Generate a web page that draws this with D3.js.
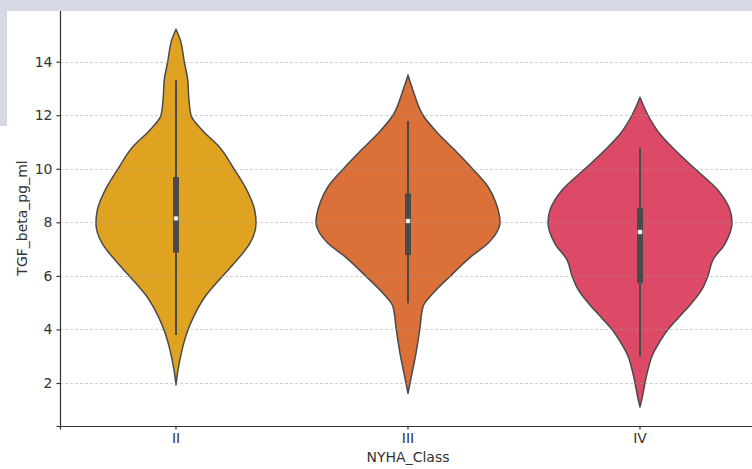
<!DOCTYPE html>
<html>
<head>
<meta charset="utf-8">
<script src="https://cdn.jsdelivr.net/npm/d3@7"></script>
<style>
  html, body { margin: 0; padding: 0; background: #ffffff; }
  svg { display: block; }
  text { font-family: "DejaVu Sans", sans-serif; fill: #333333; }
</style>
</head>
<body>
<svg id="chart" width="752" height="469"></svg>
<script>
// Categories and their fill colours
const categories = ["II", "III", "IV"];
const fills = ["#e0a321", "#db7039", "#dc4a67"];

// Box summary per class: whisker low, Q1, median, Q3, whisker high
const whiskerLow  = [3.79, 4.98, 3.00];
const q1          = [6.87, 6.78, 5.73];
const medians     = [8.15, 8.05, 7.64];
const q3          = [9.69, 9.08, 8.53];
const whiskerHigh = [13.31, 11.78, 10.78];

// Kernel density profiles (value, relative density) per class
const densityII = [
  [1.93, 0], [2.49, 0.022], [3.23, 0.065], [3.98, 0.13], [4.48, 0.192],
  [5.22, 0.315], [5.97, 0.50], [6.59, 0.663], [7.22, 0.804], [7.96, 0.87],
  [8.46, 0.855], [9.33, 0.75], [10.0, 0.63], [10.83, 0.467], [11.45, 0.283],
  [12.0, 0.163], [12.7, 0.138], [13.3, 0.128], [14.0, 0.09], [14.8, 0.047], [15.21, 0]
];
const densityIII = [
  [1.61, 0], [2.36, 0.043], [3.11, 0.087], [3.98, 0.127], [4.85, 0.163],
  [5.35, 0.272], [5.97, 0.453], [6.72, 0.685], [7.22, 0.87], [7.6, 0.96],
  [8.0, 1.0], [8.71, 0.957], [9.33, 0.87], [10.02, 0.696], [10.7, 0.508],
  [11.32, 0.326], [12.0, 0.163], [12.82, 0.065], [13.5, 0]
];
const densityIV = [
  [1.1, 0], [1.5, 0.027], [2.0, 0.054], [2.5, 0.087], [3.0, 0.13],
  [3.5, 0.207], [4.0, 0.304], [4.5, 0.435], [5.0, 0.565], [5.5, 0.674],
  [6.0, 0.739], [6.6, 0.793], [7.2, 0.924], [8.0, 1.0], [8.46, 0.978],
  [9.2, 0.848], [10.0, 0.598], [10.7, 0.38], [11.3, 0.217], [12.0, 0.087], [12.67, 0]
];
const densities = [densityII, densityIII, densityIV];

// Axis ticks and titles
const yTicks = [2, 4, 6, 8, 10, 12, 14];
const xTitle = "NYHA_Class";
const yTitle = "TGF_beta_pg_ml";

const svg = d3.select("#chart");
const W = 752, H = 469;
const margin = { left: 60, top: 10, bottom: 43 };
const plotRight = 756;

const x = d3.scaleBand().domain(categories).range([margin.left, plotRight]).padding(0);
const y = d3.scaleLinear().domain([0.394, 15.93]).range([H - margin.bottom, margin.top]);
const w = d3.scaleLinear().domain([0, 1]).range([0, 92]);

const dark = "#4a4a4a";

// Violins
const area = d3.area()
  .y(d => y(d[0]))
  .curve(d3.curveMonotoneY);

categories.forEach((c, i) => {
  const cx = x(c) + x.bandwidth() / 2;
  svg.append("path")
    .datum(densities[i])
    .attr("d", area.x0(d => cx - w(d[1])).x1(d => cx + w(d[1])))
    .attr("fill", fills[i])
    .attr("stroke", dark)
    .attr("stroke-width", 1.5)
    .attr("stroke-linejoin", "round");
});

// Horizontal grid lines
svg.append("g")
  .selectAll("line")
  .data(yTicks)
  .join("line")
  .attr("x1", margin.left)
  .attr("x2", W)
  .attr("y1", d => Math.round(y(d)) + 0.5)
  .attr("y2", d => Math.round(y(d)) + 0.5)
  .attr("stroke", "#999999")
  .attr("stroke-opacity", 0.45)
  .attr("stroke-dasharray", "3,2")
  .attr("stroke-width", 1);

// Inner box plots
categories.forEach((c, i) => {
  const cx = x(c) + x.bandwidth() / 2;
  svg.append("line")
    .attr("x1", cx).attr("x2", cx)
    .attr("y1", y(whiskerLow[i])).attr("y2", y(whiskerHigh[i]))
    .attr("stroke", dark).attr("stroke-width", 2);
  svg.append("rect")
    .attr("x", cx - 3).attr("width", 6)
    .attr("y", y(q3[i])).attr("height", y(q1[i]) - y(q3[i]))
    .attr("fill", dark);
  svg.append("rect")
    .attr("x", cx - 2).attr("width", 4)
    .attr("y", y(medians[i]) - 2).attr("height", 4)
    .attr("fill", "#ffffff")
    .attr("stroke", "#bbbbbb").attr("stroke-width", 0.5);
});

// Axes
const yAxis = svg.append("g")
  .attr("transform", `translate(${margin.left},0)`)
  .call(d3.axisLeft(y).tickValues(yTicks).tickFormat(d3.format("d")).tickSize(3.5).tickPadding(4));
const xAxis = svg.append("g")
  .attr("transform", `translate(0,${H - margin.bottom})`)
  .call(d3.axisBottom(x).tickSize(3.5).tickPadding(4));

[yAxis, xAxis].forEach(g => {
  g.select(".domain").attr("stroke", "#333333").attr("stroke-width", 1.2);
  g.selectAll(".tick line").attr("stroke", "#333333").attr("stroke-width", 1.2);
  g.selectAll(".tick text").attr("font-size", 14).attr("fill", "#333333")
    .attr("font-family", "DejaVu Sans, sans-serif");
});

// Axis titles
svg.append("text")
  .attr("x", x("III") + x.bandwidth() / 2)
  .attr("y", 462)
  .attr("text-anchor", "middle")
  .attr("font-size", 14)
  .text(xTitle);
svg.append("text")
  .attr("transform", `translate(27,${(margin.top + H - margin.bottom) / 2}) rotate(-90)`)
  .attr("text-anchor", "middle")
  .attr("font-size", 14)
  .text(yTitle);

// Window frame strips
svg.append("rect").attr("x", 0).attr("y", 0).attr("width", W).attr("height", 11).attr("fill", "#d6dae6");
svg.append("rect").attr("x", 0).attr("y", 0).attr("width", 7).attr("height", 126).attr("fill", "#d6dae6");
</script>
</body>
</html>
